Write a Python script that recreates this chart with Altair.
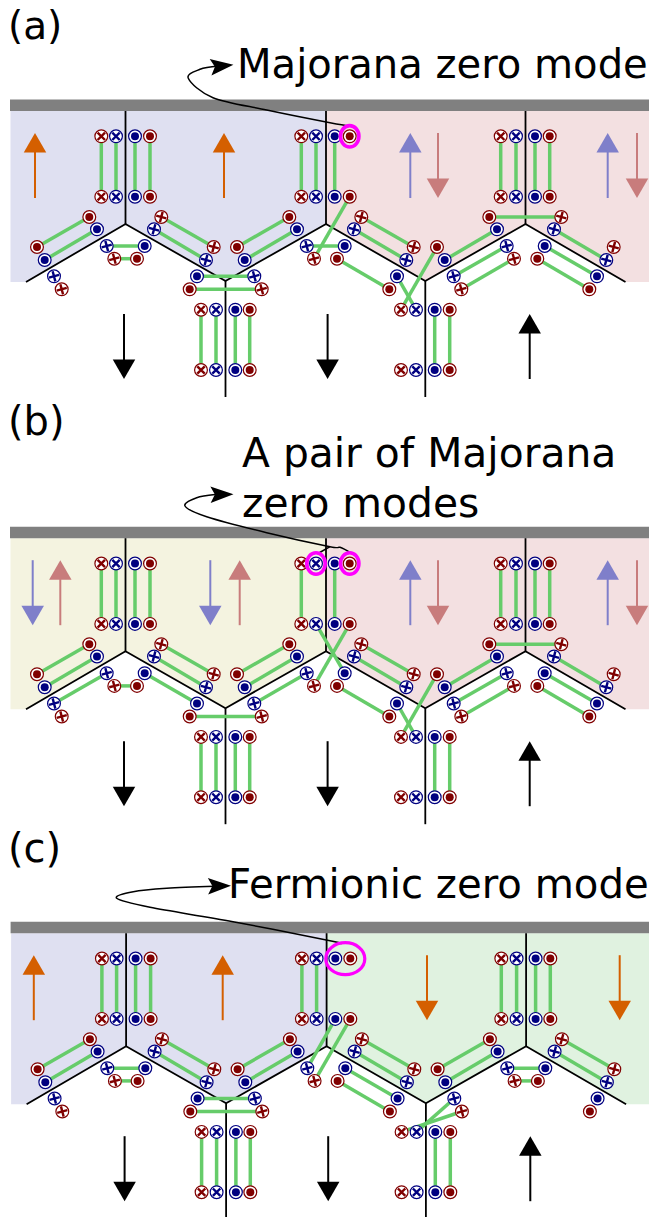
import altair as alt
import pandas as pd

# ---- panel placement (image pixels) ----
PANELS = {"a": (0.0, 0.0), "b": (0.0, 427.2), "c": (0.6, 822.2)}

# ---- circles of one panel, as (x, y) ----
TOP_Y = [136.3, 196.7]
LOW_Y = [309.7, 370.0]
RX_TOP = [101.3, 301.3, 500.7]
BX_TOP = [116.0, 316.0, 516.0]
BD_TOP = [135.0, 334.7, 535.0]
RD_TOP = [150.0, 349.7, 549.7]
RX_LOW = [201.0, 401.0]
BX_LOW = [216.0, 416.0]
BD_LOW = [235.3, 434.7]
RD_LOW = [249.7, 449.7]
RD_ARM = [(89.3, 217), (37, 247), (137, 258.7), (189.7, 289.3), (289.3, 217), (237, 247),
          (337, 258.7), (389.3, 289.3), (489.3, 217), (437, 247), (537.3, 258.7), (589.3, 289.3)]
BD_ARM = [(97, 229.3), (44.7, 260), (144.7, 246), (197, 276.3), (297, 229.3), (244.7, 260),
          (344.7, 246), (397, 276.3), (497, 229.3), (444.7, 260), (544.7, 246), (597, 276.3)]
RX_DOWN = [(161.3, 217), (213.7, 247), (361.3, 217), (413.7, 247), (561.3, 217), (613.7, 247)]
BX_DOWN = [(154, 229.3), (206, 260), (354, 229.3), (406.3, 260), (554, 229.3), (606.3, 260)]
RX_UP = [(61.7, 289.3), (114.3, 258.7), (261.7, 289.3), (314, 258.7), (461.3, 289.3), (514, 258.7)]
BX_UP = [(54, 276.3), (106.7, 246), (254.3, 276.3), (306.7, 246), (453.7, 276.3), (506.7, 246)]

# ---- green bonds: (x1, y1, x2, y2) ----
V125 = [(101.3, 136.3, 101.3, 196.7), (116, 136.3, 116, 196.7), (135, 136.3, 135, 196.7), (150, 136.3, 150, 196.7)]
V225 = [(201, 309.7, 201, 370), (216, 309.7, 216, 370), (235.3, 309.7, 235.3, 370), (249.7, 309.7, 249.7, 370)]
V425 = [(434.7, 309.7, 434.7, 370), (449.7, 309.7, 449.7, 370)]
V525 = [(500.7, 136.3, 500.7, 196.7), (516, 136.3, 516, 196.7), (535, 136.3, 535, 196.7), (549.7, 136.3, 549.7, 196.7)]
ARM_125L = [(89.3, 217, 37, 247), (97, 229.3, 44.7, 260)]
ARM_125B = [(106.7, 246, 144.7, 246), (114.3, 258.7, 137, 258.7)]
ARM_125R = [(161.3, 217, 213.7, 247), (154, 229.3, 206, 260)]
ARM_225 = [(197, 276.3, 254.3, 276.3), (189.7, 289.3, 261.7, 289.3)]
ARM_326L = [(289.3, 217, 237, 247), (297, 229.3, 244.7, 260)]
ARM_326R = [(361.3, 217, 413.7, 247), (354, 229.3, 406.3, 260), (337, 258.7, 389.3, 289.3)]
RIGHT_AB = [(397, 276.3, 416, 309.7), (437, 247, 401, 309.7), (444.7, 260, 497, 229.3), (489.3, 217, 561.3, 217),
            (453.7, 276.3, 506.7, 246), (461.3, 289.3, 514, 258.7), (544.7, 246, 597, 276.3),
            (537.3, 258.7, 589.3, 289.3), (554, 229.3, 606.3, 260)]
COMMON = V125 + V225 + V425 + V525 + ARM_125L + ARM_125R + ARM_326R
GREEN = {
    "a": COMMON + ARM_125B + ARM_225 + ARM_326L + RIGHT_AB + [
        (301.3, 136.3, 301.3, 196.7), (316, 136.3, 316, 196.7), (334.7, 136.3, 334.7, 196.7),
        (349.7, 196.7, 314, 258.7), (306.7, 246, 344.7, 246)],
    "b": COMMON + ARM_326L + RIGHT_AB + [
        (301.3, 136.3, 301.3, 196.7), (334.7, 136.3, 334.7, 196.7),
        (54, 276.3, 106.7, 246), (114.3, 258.7, 137, 258.7), (144.7, 246, 197, 276.3),
        (189.7, 289.3, 261.7, 289.3), (254.3, 276.3, 306.7, 246),
        (316, 196.7, 344.7, 246), (349.7, 196.7, 314, 258.7)],
    "c": COMMON + ARM_125B + ARM_225 + ARM_326L + [
        (301.3, 136.3, 301.3, 196.7), (316, 136.3, 316, 196.7),
        (334.7, 196.7, 306.7, 246), (349.7, 196.7, 314, 258.7), (344.7, 246, 397, 276.3),
        (489.3, 217, 437, 247), (497, 229.3, 444.7, 260),
        (453.7, 276.3, 416, 309.7), (461.3, 289.3, 401, 309.7),
        (506.7, 246, 544.7, 246), (514, 258.7, 537.3, 258.7),
        (561.3, 217, 613.7, 247), (554, 229.3, 606.3, 260)],
}

# ---- black lattice ----
EDGE_X = [26, 125.5, 225.5, 326, 425.3, 525.5, 625.5]
EDGE_Y = [282, 224, 281, 224, 281, 224, 282]
STEMS = [(125.5, 111, 224), (326, 111, 224), (525.5, 111, 224), (225.5, 281, 397), (425.3, 281, 397)]

# ---- shaded regions ----
REGION_LEFT_X = [10.5, 26, 125.5, 225.5, 326]
REGION_LEFT_Y = [282, 282, 224, 281, 224]
REGION_RIGHT_X = [326, 425.3, 525.5, 625.5, 654]
REGION_RIGHT_Y = [224, 281, 224, 282, 282]
REGION_COLOURS = {"a": ("#dfe0f1", "#f3e0e1"), "b": ("#f4f3e0", "#f3e0e1"), "c": ("#dfe0f1", "#e0f2e0")}

# ---- spin arrows: (x, direction, colour) ----
ORANGE, BLUE, PINK, BLACK = "#d45f00", "#7f7fca", "#c87c7c", "#000000"
SPINS = {
    "a": [(35, "up", ORANGE), (224, "up", ORANGE), (410.3, "up", BLUE), (438, "down", PINK),
          (607.7, "up", BLUE), (637, "down", PINK)],
    "b": [(32.7, "down", BLUE), (60.3, "up", PINK), (210.3, "down", BLUE), (239.7, "up", PINK),
          (410.3, "up", BLUE), (438, "down", PINK), (607.7, "up", BLUE), (637, "down", PINK)],
    "c": [(33.8, "up", ORANGE), (222.7, "up", ORANGE), (427, "down", ORANGE), (619.7, "down", ORANGE)],
}
BOTTOM_ARROWS = [(124, "down", BLACK), (327.6, "down", BLACK), (529.7, "up", BLACK)]

# ---- callouts ----
CURVE_A = [(349, 125.7), (330, 122.7), (266.7, 110), (213, 97.7), (188.3, 78.3), (200, 69.3), (218, 66)]
CURVE_B = [(350.3, 552.7), (340, 547.3), (330, 546.7), (266.7, 532.7), (206.7, 516.7), (185, 506), (196.7, 497.7), (215, 494.5)]
CURVE_B2 = [(318, 553.5), (330, 546.7)]
CURVE_C = [(340, 943.3), (330, 940.7), (233, 921.7), (150, 907.3), (116.7, 898.3), (133.3, 891.7), (166.7, 888.3), (215, 886.3)]
HEADS = [(222, 66, 354), (222, 494.5, 359), (219.5, 886, 359)]
RINGS_TALL = [(349.7, 136.3), (316, 563.5), (349.7, 563.5)]
RINGS_WIDE = [(345.3, 958.7)]

LABELS = [("(a)", 8, 39, 39), ("(b)", 8, 435, 40), ("(c)", 8, 862, 40),
          ("Majorana zero mode", 237, 77.5, 40.1),
          ("A pair of Majorana", 242, 466.7, 40.8), ("zero modes", 242, 516.7, 40.8),
          ("Fermionic zero mode", 228, 898.3, 40.2)]

# ---- scales ----
X = alt.Scale(domain=[8, 649], nice=False, zero=False)
Y = alt.Scale(domain=[1217, 8], nice=False, zero=False)
def ex(f="x"): return alt.X(f + ":Q", scale=X, axis=None)
def ey(f="y"): return alt.Y(f + ":Q", scale=Y, axis=None)

layers = []

# regions, one per panel side
for p, (dx, dy) in PANELS.items():
    for xs, ys, col in ((REGION_LEFT_X, REGION_LEFT_Y, REGION_COLOURS[p][0]),
                        (REGION_RIGHT_X, REGION_RIGHT_Y, REGION_COLOURS[p][1])):
        df = pd.DataFrame({"x": [v + dx for v in xs], "y": [111 + dy] * len(xs), "y2": [v + dy for v in ys]})
        layers.append(alt.Chart(df).mark_area(color=col, opacity=1).encode(ex(), ey(), y2="y2:Q"))

# grey bars
bars = pd.DataFrame([{"x": 10 + dx, "x2": 653.5 + dx, "y": 99.5 + dy, "y2": 111 + dy} for dx, dy in PANELS.values()])
layers.append(alt.Chart(bars).mark_rect(color="#808080").encode(ex(), x2="x2:Q", y=ey(), y2="y2:Q"))

# black lattice
rows = []
for p, (dx, dy) in PANELS.items():
    for x, y in zip(EDGE_X, EDGE_Y):
        rows.append({"x": x + dx, "y": y + dy, "p": p})
layers.append(alt.Chart(pd.DataFrame(rows)).mark_line(color="black", strokeWidth=1.8)
              .encode(ex(), ey(), detail="p:N"))
rows = []
for p, (dx, dy) in PANELS.items():
    for x, y1, y2 in STEMS:
        rows.append({"x": x + dx, "y": y1 + dy, "y2": y2 + dy})
layers.append(alt.Chart(pd.DataFrame(rows)).mark_rule(color="black", strokeWidth=1.8)
              .encode(ex(), ey(), y2="y2:Q"))

# green bonds
rows = []
for p, (dx, dy) in PANELS.items():
    for x1, y1, x2, y2 in GREEN[p]:
        rows.append({"x": x1 + dx, "y": y1 + dy, "x2": x2 + dx, "y2": y2 + dy})
layers.append(alt.Chart(pd.DataFrame(rows)).mark_rule(color="#66cc6a", strokeWidth=3.5)
              .encode(ex(), x2="x2:Q", y=ey(), y2="y2:Q"))

# circles
NAVY, DARKRED = "#000080", "#800000"
def spread(xs, ys): return [(x, y) for x in xs for y in ys]
GROUPS = [
    (spread(RD_TOP, TOP_Y) + spread(RD_LOW, LOW_Y) + RD_ARM, DARKRED, "dot", 0),
    (spread(BD_TOP, TOP_Y) + spread(BD_LOW, LOW_Y) + BD_ARM, NAVY, "dot", 0),
    (spread(RX_TOP, TOP_Y) + spread(RX_LOW, LOW_Y), DARKRED, "x", 45),
    (spread(BX_TOP, TOP_Y) + spread(BX_LOW, LOW_Y), NAVY, "x", 45),
    (RX_DOWN, DARKRED, "x", 15), (BX_DOWN, NAVY, "x", 15),
    (RX_UP, DARKRED, "x", 75), (BX_UP, NAVY, "x", 75),
]
CROSS = "M-1,0L1,0M0,-1L0,1"
for pts, col, kind, ang in GROUPS:
    rows = [{"x": x + dx, "y": y + dy} for dx, dy in PANELS.values() for x, y in pts]
    base = alt.Chart(pd.DataFrame(rows))
    layers.append(base.mark_point(shape="circle", size=164, filled=True, fill="white", stroke=col,
                                  strokeWidth=1.2, opacity=1).encode(ex(), ey()))
    if kind == "dot":
        layers.append(base.mark_point(shape="circle", size=64, filled=True, color=col, opacity=1).encode(ex(), ey()))
    else:
        layers.append(base.mark_point(shape=CROSS, size=110, filled=False, stroke=col, strokeWidth=2.4,
                                      angle=ang, opacity=1).encode(ex(), ey()))

# arrows
def add_arrow(rows_s, rows_h, x, top, bottom, direction, col):
    rows_s.append({"x": x, "y": top if direction == "down" else bottom,
                   "y2": bottom - 12 if direction == "down" else top + 12, "c": col})
    rows_h.append({"x": x, "y": bottom - 9.8 if direction == "down" else top + 9.8, "c": col, "d": direction})
shafts, heads = [], []
for p, (dx, dy) in PANELS.items():
    for x, d, c in SPINS[p]:
        add_arrow(shafts, heads, x, 133 + dy, 198 + dy, d, c)
    for x, d, c in BOTTOM_ARROWS:
        add_arrow(shafts, heads, x + dx, 314 + dy, 379 + dy, d, c)
sdf, hdf = pd.DataFrame(shafts), pd.DataFrame(heads)
layers.append(alt.Chart(sdf).mark_rule(strokeWidth=2).encode(ex(), ey(), y2="y2:Q", color=alt.Color("c:N", scale=None)))
for d in ("up", "down"):
    layers.append(alt.Chart(hdf[hdf.d == d]).mark_point(shape=f"triangle-{d}", size=506, filled=True, opacity=1)
                  .encode(ex(), ey(), color=alt.Color("c:N", scale=None)))

# callout curves
rows = []
for name, pts in (("a", CURVE_A), ("b", CURVE_B), ("b2", CURVE_B2), ("c", CURVE_C)):
    for i, (x, y) in enumerate(pts):
        rows.append({"x": x, "y": y, "g": name, "i": i})
layers.append(alt.Chart(pd.DataFrame(rows)).mark_line(color="black", strokeWidth=1.5, interpolate="cardinal")
              .encode(ex(), ey(), detail="g:N", order="i:Q"))
NOTCHED = "M1,0L-1,-0.72L-0.62,0L-1,0.72Z"
for x, y, ang in HEADS:
    layers.append(alt.Chart(pd.DataFrame({"x": [x], "y": [y]}))
                  .mark_point(shape=NOTCHED, size=529, filled=True, color="black", angle=ang, opacity=1)
                  .encode(ex(), ey()))

# magenta rings
layers.append(alt.Chart(pd.DataFrame(RINGS_TALL, columns=["x", "y"]))
              .mark_point(shape="M0,-1A0.86,1,0,1,1,0,1A0.86,1,0,1,1,0,-1Z", size=460, filled=False,
                          stroke="#ff00ff", strokeWidth=3.6, opacity=1).encode(ex(), ey()))
layers.append(alt.Chart(pd.DataFrame(RINGS_WIDE, columns=["x", "y"]))
              .mark_point(shape="M-1,0A1,0.82,0,1,1,1,0A1,0.82,0,1,1,-1,0Z", size=1521, filled=False,
                          stroke="#ff00ff", strokeWidth=3.2, opacity=1).encode(ex(), ey()))

# text
for t, x, y, s in LABELS:
    layers.append(alt.Chart(pd.DataFrame({"x": [x], "y": [y], "t": [t]}))
                  .mark_text(align="left", baseline="alphabetic", font="DejaVu Sans", fontSize=s, color="black")
                  .encode(ex(), ey(), text="t:N"))

chart = alt.layer(*layers).properties(
    width=641, height=1209, padding=0, autosize=alt.AutoSizeParams(type="none"), background="white"
).configure_view(stroke=None)
chart.save("out.html", embed_options={"renderer": "svg", "actions": False})
